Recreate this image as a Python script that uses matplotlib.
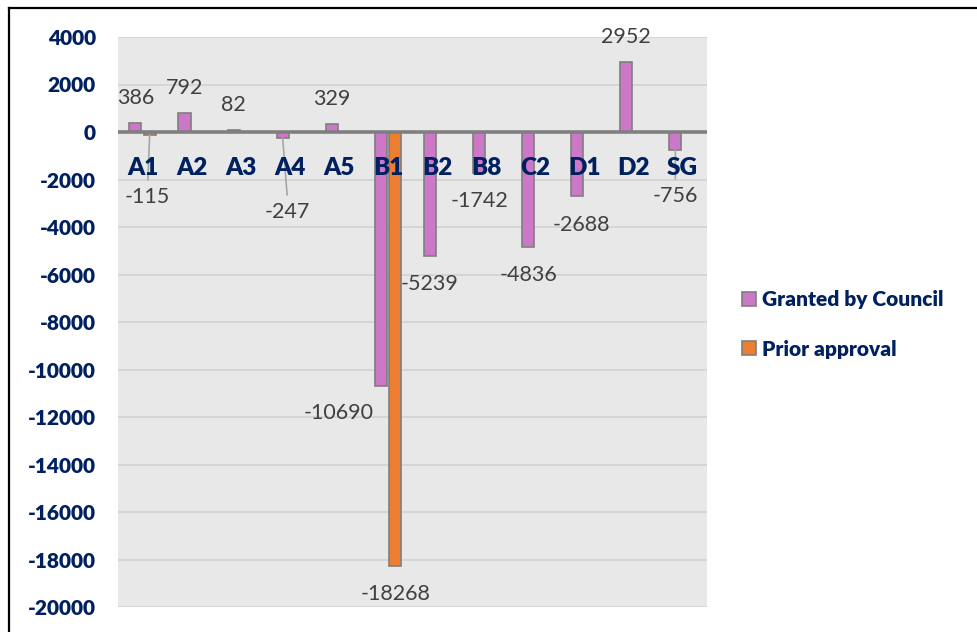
#! /usr/bin/env python3
# Granted by Council vs Prior approval, per use class

import numpy as np
import matplotlib
matplotlib.use("Agg")
import matplotlib.pyplot as plt
from matplotlib.patches import Patch
from matplotlib.lines import Line2D

# Data
categories = ["A1", "A2", "A3", "A4", "A5", "B1", "B2", "B8", "C2", "D1", "D2", "SG"]
granted = [386, 792, 82, -247, 329, -10690, -5239, -1742, -4836, -2688, 2952, -756]
prior = [-115, np.nan, np.nan, np.nan, np.nan, -18268, np.nan, np.nan, np.nan, np.nan, np.nan, np.nan]
yticks = list(range(-20000, 4001, 2000))

# Styling
purple = "#CC77C8"
orange = "#ED7D31"
edge = "#7F7F7F"
navy = "#002060"
lblcol = "#404040"
fonts = ["Lato", "DejaVu Sans"]
plt.rcParams['font.family'] = fonts

W, H, dpi = 977, 632, 100.0
fig = plt.figure(figsize=(W/dpi, H/dpi), dpi=dpi)
ax = fig.add_axes([118/W, 25/H, 589/W, 570/H])
ax.set_facecolor("#E8E8E8")

x = np.arange(len(categories))
bw = 0.245
off = 0.145
ax.bar(x - off, granted, bw, color=purple, edgecolor=edge, linewidth=1.2, zorder=3)
ax.bar(x + off, prior, bw, color=orange, edgecolor=edge, linewidth=1.2, zorder=3)

ax.set_xlim(-0.5, len(categories) - 0.5)
ax.set_ylim(-20000, 4000)
ax.set_yticks(yticks)
ax.set_yticklabels([str(v) for v in yticks], fontsize=15, fontweight="heavy", color=navy)
ax.tick_params(axis="y", length=0, pad=16)
ax.set_xticks([])
for s in ax.spines.values():
	s.set_visible(False)
ax.grid(axis="y", color="#D4D4D4", linewidth=1.3, zorder=0)
ax.set_axisbelow(True)
ax.axhline(0, color=edge, linewidth=2.6, zorder=4)

# category names sit just under the zero line
for i, c in enumerate(categories):
	ax.annotate(c, xy=(i, 0), xytext=(0, -36), textcoords="offset pixels",
				ha="center", va="center", fontsize=17.5, fontweight="heavy", color=navy, zorder=6)

# data labels: (dx, dy) pixel offsets from bar tip, leader line flag
gOffsets = {3: (5, -74, True), 5: (-42, -27), 9: (4, -29), 11: (0, -46, True)}
pOffsets = {0: (-2, -62, True)}

def label(xpos, v, o):
	if np.isnan(v):
		return
	dx, dy = (o[0], o[1]) if o else (0, 25 if v > 0 else -28)
	lead = o is not None and len(o) > 2
	kw = {}
	if lead:
		kw["arrowprops"] = dict(arrowstyle="-", color="#A6A6A6", lw=1.2,
								shrinkA=3, shrinkB=0, relpos=(0.5, 1.0))
	ax.annotate(str(int(v)), xy=(xpos, v), xytext=(dx, dy), textcoords="offset pixels",
				ha="center", va="center", fontsize=15.5, color=lblcol, zorder=5, **kw)

for i, v in enumerate(granted):
	label(i - off, v, gOffsets.get(i))
for i, v in enumerate(prior):
	label(i + off, v, pOffsets.get(i))

# Legend
handles = [Patch(facecolor=purple, edgecolor=edge, linewidth=1.2),
		   Patch(facecolor=orange, edgecolor=edge, linewidth=1.2)]
fig.legend(handles, ["Granted by Council", "Prior approval"], loc="center left",
		   bbox_to_anchor=(742/W, 1 - 324.5/H), frameon=False, borderpad=0, borderaxespad=0,
		   handlelength=0.65, handleheight=0.65, handletextpad=0.3, labelspacing=1.45,
		   prop=dict(family=fonts, weight="heavy", size=15), labelcolor=navy)

# outer frame (cut off at right/bottom like the source)
fig.add_artist(Line2D([9/W, 1], [1 - 8/H, 1 - 8/H], color="black", lw=1.6, transform=fig.transFigure))
fig.add_artist(Line2D([9/W, 9/W], [0, 1 - 8/H], color="black", lw=1.6, transform=fig.transFigure))

fig.savefig("out.png", dpi=dpi, facecolor="white")
plt.close(fig)
